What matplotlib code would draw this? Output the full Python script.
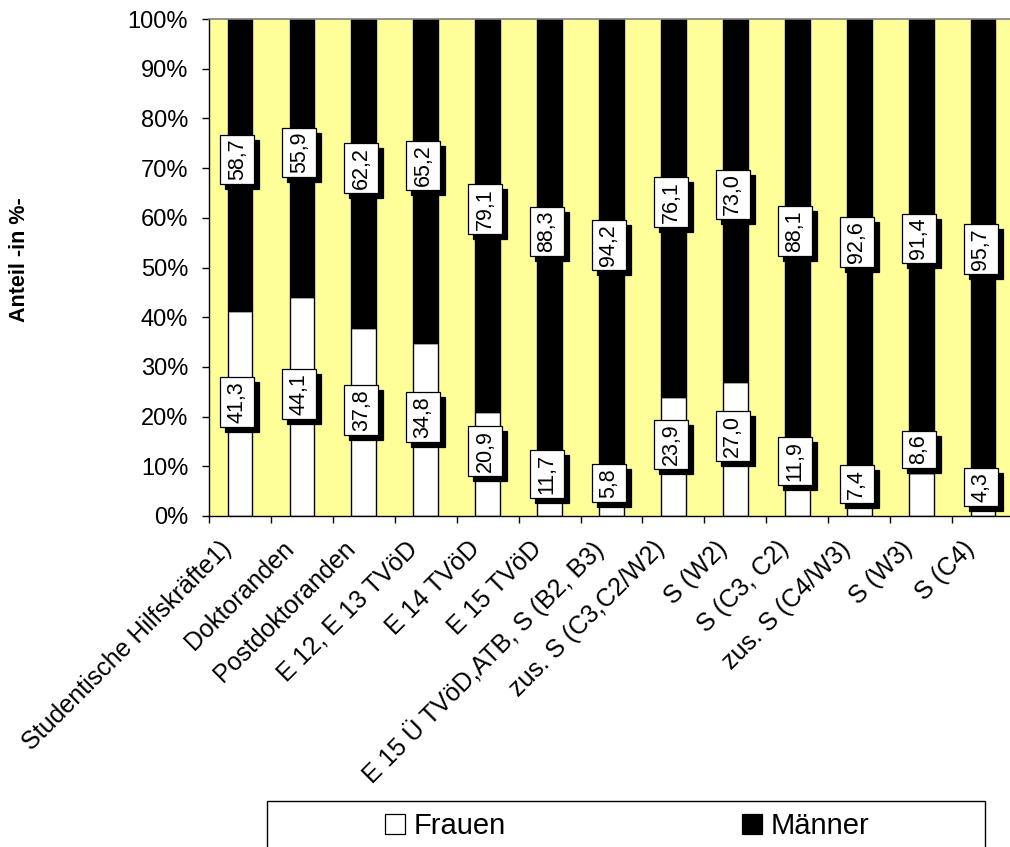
import matplotlib
matplotlib.use("Agg")
import matplotlib.pyplot as plt
from matplotlib.patches import Patch, Rectangle
from matplotlib.transforms import ScaledTranslation
import numpy as np

# ---------------- data ----------------
categories = [
    "Studentische Hilfskräfte1)", "Doktoranden", "Postdoktoranden",
    "E 12, E 13 TVöD", "E 14 TVöD", "E 15 TVöD",
    "E 15 Ü TVöD,ATB, S (B2, B3)", "zus. S (C3,C2/W2)", "S (W2)",
    "S (C3, C2)", "zus. S (C4/W3)", "S (W3)", "S (C4)",
]
frauen = [41.3, 44.1, 37.8, 34.8, 20.9, 11.7, 5.8, 23.9, 27.0, 11.9, 7.4, 8.6, 4.3]
maenner = [58.7, 55.9, 62.2, 65.2, 79.1, 88.3, 94.2, 76.1, 73.0, 88.1, 92.6, 91.4, 95.7]
series_names = ["Frauen", "Männer"]
ytick_values = [0, 10, 20, 30, 40, 50, 60, 70, 80, 90, 100]
ytick_labels = [f"{v}%" for v in ytick_values]
y_title = "Anteil -in %-"

# ---------------- layout (label centres, as placed in the source) ----------------
frauen_label_y = [22.9, 24.5, 21.3, 19.9, 13.1, 8.45, 6.7, 14.4, 16.0, 11.1, 6.5, 13.4, 5.9]
maenner_label_y = [71.7, 73.1, 70.0, 70.5, 61.8, 57.2, 54.5, 63.2, 64.7, 57.3, 55.2, 55.8, 53.7]

FONT = "Liberation Sans"
plt.rcParams["font.family"] = [FONT, "DejaVu Sans"]

W, H = 1010, 847
fig = plt.figure(figsize=(W / 100, H / 100), dpi=100)
ax = fig.add_axes([209 / W, 1 - 516 / H, 805 / W, (516 - 19) / H])
ax.set_facecolor("#FFFF99")

x = np.arange(len(categories))
bw = 0.40
ax.bar(x, frauen, width=bw, color="white", edgecolor="black", linewidth=1.0, zorder=2)
ax.bar(x, maenner, width=bw, bottom=frauen, color="black", edgecolor="black", linewidth=1.0, zorder=2)

ax.set_xlim(-0.5, len(categories) - 0.5)
ax.set_ylim(0, 100)

# y axis
ax.set_yticks(ytick_values)
ax.set_yticklabels(ytick_labels, fontsize=17)
ax.tick_params(axis="y", direction="out", length=5, width=1, pad=10, colors="black")

# x axis: ticks at category boundaries, labels at centres
ax.set_xticks(x)
ax.set_xticklabels(categories, fontsize=18, rotation=45, ha="right",
                   va="center", rotation_mode="anchor")
ax.tick_params(axis="x", which="major", length=0, pad=21)
ax.set_xticks(np.arange(len(categories) + 1) - 0.5, minor=True)
ax.tick_params(axis="x", which="minor", direction="out", length=5, width=1)
shift = ScaledTranslation(-12 / 100, 0, fig.dpi_scale_trans)
for lbl in ax.get_xticklabels():
    lbl.set_transform(lbl.get_transform() + shift)

for side in ["top", "right"]:
    ax.spines[side].set_color("#808080")
    ax.spines[side].set_linewidth(1.2)
for side in ["left", "bottom"]:
    ax.spines[side].set_color("black")
    ax.spines[side].set_linewidth(1.0)


def fmt(v):
    return f"{v:.1f}".replace(".", ",")


texts = []
for i in range(len(categories)):
    for yv, val in ((frauen_label_y[i], frauen[i]), (maenner_label_y[i], maenner[i])):
        t = ax.annotate(fmt(val), xy=(x[i], yv), xytext=(-1.8, 0), textcoords="offset points",
                        rotation=90, ha="center", va="center", fontsize=15.5, zorder=6)
        texts.append(t)

# boxes with drop shadow behind the value labels
fig.canvas.draw()
renderer = fig.canvas.get_renderer()
inv = ax.transData.inverted()
BOX_W = 34.0   # px
PAD_LEN = 4.0  # px along text
SH = 5.0       # shadow offset px
for t in texts:
    bb = t.get_window_extent(renderer)
    cx = (bb.x0 + bb.x1) / 2
    cy = (bb.y0 + bb.y1) / 2
    hh = bb.height / 2 + PAD_LEN
    hw = BOX_W / 2
    for dx, dy, fc, z in ((SH, -SH, "black", 4), (0, 0, "white", 5)):
        (x0, y0) = inv.transform((cx - hw + dx, cy - hh + dy))
        (x1, y1) = inv.transform((cx + hw + dx, cy + hh + dy))
        ax.add_patch(Rectangle((x0, y0), x1 - x0, y1 - y0, facecolor=fc,
                               edgecolor="black", linewidth=0.9, zorder=z, clip_on=False))

fig.text(19.5 / W, 1 - 260 / H, y_title, rotation=90, ha="center", va="center",
         fontsize=15.5, fontweight="bold")

# legend
handles = [Patch(facecolor="white", edgecolor="black", linewidth=0.9),
           Patch(facecolor="black", edgecolor="black", linewidth=0.9)]
fig.legend(handles, series_names, loc="center", bbox_to_anchor=(627 / W, 1 - 826 / H),
           ncol=2, frameon=False, fontsize=21, handlelength=0.7, handleheight=0.7,
           handletextpad=0.28, columnspacing=8.1)
frame = Rectangle((267 / W, 1 - 880 / H), (985 - 267) / W, (880 - 801) / H,
                  transform=fig.transFigure, fill=False, edgecolor="black", linewidth=1.0)
fig.add_artist(frame)

fig.savefig("out.png", dpi=100)
